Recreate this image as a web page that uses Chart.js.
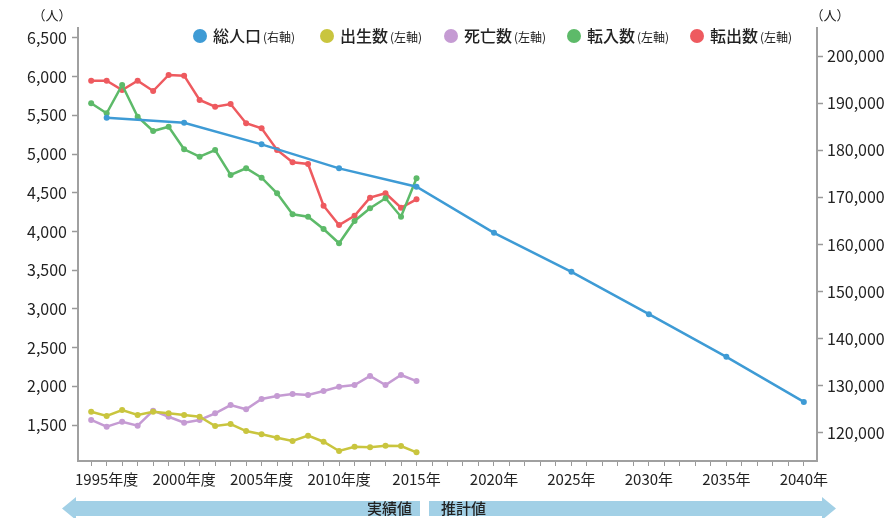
<!DOCTYPE html>
<html><head><meta charset="utf-8">
<script src="https://cdn.jsdelivr.net/npm/chart.js@4/dist/chart.umd.min.js"></script>
<style>html,body{margin:0;padding:0;background:#fff}canvas{display:block}</style>
</head><body>
<canvas id="c" width="890" height="518"></canvas>
<script>
// ---- data ----
const yearsActual = [1994,1995,1996,1997,1998,1999,2000,2001,2002,2003,2004,2005,2006,2007,2008,2009,2010,2011,2012,2013,2014,2015];
const births  = [1672,1616,1694,1629,1672,1651,1629,1607,1487,1513,1422,1380,1336,1293,1362,1284,1164,1220,1212,1233,1229,1147];
const deaths  = [1565,1478,1543,1491,1685,1607,1530,1565,1651,1758,1703,1836,1875,1901,1888,1939,1995,2017,2133,2017,2146,2068];
const moveIn  = [5656,5527,5893,5483,5298,5354,5062,4966,5053,4730,4817,4695,4494,4222,4191,4032,3848,4136,4300,4429,4191,4687];
const moveOut = [5948,5948,5828,5948,5815,6022,6013,5699,5612,5647,5398,5333,5053,4894,4872,4333,4084,4204,4437,4494,4307,4416];
const popYears   = [1995,2000,2005,2010,2015,2020,2025,2030,2035,2040];
const population = [186900,185840,181250,176160,172250,162480,154200,145220,136160,126600];
const xLabelYears = [1995,2000,2005,2010,2015,2020,2025,2030,2035,2040];
const xTickLabels = ['1995年度','2000年度','2005年度','2010年度','2015年','2020年','2025年','2030年','2035年','2040年'];
const leftTicks  = [1500,2000,2500,3000,3500,4000,4500,5000,5500,6000,6500];
const rightTicks = [120000,130000,140000,150000,160000,170000,180000,190000,200000];
const seriesNames = ['総人口','出生数','死亡数','転入数','転出数'];
const axisNotes   = ['(右軸)','(左軸)','(左軸)','(左軸)','(左軸)'];
const unitLabel = '（人）';
const periodLabels = ['実績値','推計値'];

const colors = ['#3e9bd5','#c9c53e','#c59bd3','#5dba69','#ee5a5f'];
const FONT = '"Noto Sans CJK JP", "Noto Sans", sans-serif';

const pts = (xs, ys) => xs.map((x,i)=>({x:x, y:ys[i]}));
const tickYears = [];
for (let y = 1994; y <= 2040; y++) tickYears.push(y);

function mkDs(label, data, color, axis){
  return {label, data, yAxisID: axis, borderColor: color, backgroundColor: color,
    borderWidth: 2.5, pointRadius: 3, pointBorderWidth: 0, pointBackgroundColor: color,
    tension: 0, fill: false};
}

const decor = {
  id: 'decor',
  afterDraw(chart){
    const ctx = chart.ctx;
    ctx.save();
    // legend
    const centers = [200, 327, 451, 574, 697];
    const ly = 36;
    for (let i = 0; i < seriesNames.length; i++){
      const cx = centers[i];
      ctx.fillStyle = colors[i];
      ctx.beginPath(); ctx.arc(cx, ly, 7, 0, Math.PI*2); ctx.fill();
      ctx.fillStyle = '#222';
      ctx.textBaseline = 'middle'; ctx.textAlign = 'left';
      ctx.font = '500 16px ' + FONT;
      const tx = cx + 13;
      ctx.fillText(seriesNames[i], tx, ly);
      const w = ctx.measureText(seriesNames[i]).width;
      ctx.font = '12px ' + FONT;
      ctx.fillText(axisNotes[i], tx + w + 2, ly + 1);
    }
    // unit labels
    ctx.font = '13px ' + FONT;
    ctx.fillStyle = '#222';
    ctx.textAlign = 'center';
    ctx.fillText(unitLabel, 52, 15);
    ctx.fillText(unitLabel, 830, 15);
    // bottom arrow band
    ctx.fillStyle = '#a2d0e6';
    const t = 501, b = 516, ht = 497, hb = 520, mid = 508.5;
    ctx.beginPath();
    ctx.moveTo(62, mid); ctx.lineTo(76, ht); ctx.lineTo(76, t); ctx.lineTo(420, t);
    ctx.lineTo(420, b); ctx.lineTo(76, b); ctx.lineTo(76, hb); ctx.closePath(); ctx.fill();
    ctx.beginPath();
    ctx.moveTo(836, mid); ctx.lineTo(822, ht); ctx.lineTo(822, t); ctx.lineTo(429, t);
    ctx.lineTo(429, b); ctx.lineTo(822, b); ctx.lineTo(822, hb); ctx.closePath(); ctx.fill();
    ctx.fillStyle = '#222';
    ctx.font = '500 15px ' + FONT;
    ctx.textBaseline = 'middle';
    ctx.textAlign = 'right'; ctx.fillText(periodLabels[0], 412, mid);
    ctx.textAlign = 'left'; ctx.fillText(periodLabels[1], 441, mid);
    ctx.restore();
  }
};

new Chart(document.getElementById('c'), {
  type: 'line',
  data: {
    datasets: [
      mkDs(seriesNames[0], pts(popYears, population), colors[0], 'yR'),
      mkDs(seriesNames[1], pts(yearsActual, births), colors[1], 'yL'),
      mkDs(seriesNames[2], pts(yearsActual, deaths), colors[2], 'yL'),
      mkDs(seriesNames[3], pts(yearsActual, moveIn), colors[3], 'yL'),
      mkDs(seriesNames[4], pts(yearsActual, moveOut), colors[4], 'yL')
    ]
  },
  options: {
    responsive: false, animation: false,
    layout: { padding: { top: 28, left: 0, right: 0, bottom: 0 } },
    plugins: { legend: { display: false }, tooltip: { enabled: false } },
    scales: {
      x: {
        type: 'linear', position: 'bottom', min: 1993.15, max: 2040.85,
        afterBuildTicks: s => { s.ticks = tickYears.map(v => ({value: v})); },
        afterFit: s => { s.height = 57; },
        ticks: {
          autoSkip: false, maxRotation: 0, minRotation: 0, padding: 4,
          color: '#222', font: { family: FONT, size: 15 },
          callback: v => { const i = xLabelYears.indexOf(v); return i >= 0 ? xTickLabels[i] : ''; }
        },
        grid: { drawOnChartArea: false, drawTicks: true, tickLength: 5, tickColor: '#999', tickWidth: 1 },
        border: { color: '#a0a0a0', width: 2 }
      },
      yL: {
        type: 'linear', position: 'left', min: 1035, max: 6629,
        afterBuildTicks: s => { s.ticks = leftTicks.map(v => ({value: v})); },
        afterFit: s => { s.width = 78; },
        ticks: { color: '#222', padding: 5, font: { family: FONT, size: 16 },
          callback: v => v.toLocaleString('en-US') },
        grid: { drawOnChartArea: false, drawTicks: true, tickLength: 6, tickColor: '#999', tickWidth: 1.5 },
        border: { color: '#a0a0a0', width: 2 }
      },
      yR: {
        type: 'linear', position: 'right', min: 114055, max: 205945,
        afterBuildTicks: s => { s.ticks = rightTicks.map(v => ({value: v})); },
        afterFit: s => { s.width = 73; },
        ticks: { color: '#222', padding: 4, font: { family: FONT, size: 16 },
          callback: v => v.toLocaleString('en-US') },
        grid: { drawOnChartArea: false, drawTicks: true, tickLength: 6, tickColor: '#999', tickWidth: 1.5 },
        border: { color: '#a0a0a0', width: 2 }
      }
    }
  },
  plugins: [decor]
});
</script>
</body></html>
